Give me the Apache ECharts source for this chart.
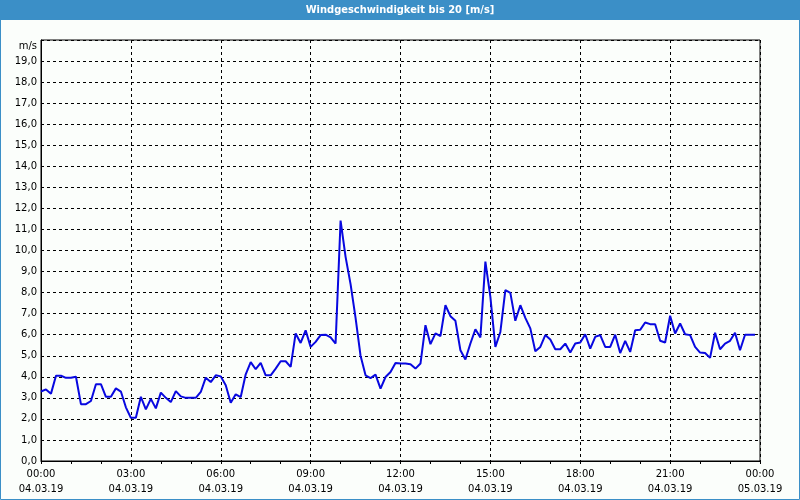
<!DOCTYPE html>
<html>
<head>
<meta charset="utf-8">
<script src="https://cdn.jsdelivr.net/npm/echarts@6/dist/echarts.min.js"></script>
<style>
html,body{margin:0;padding:0;background:#fbfefb;}
#chart{width:800px;height:500px;}
</style>
</head>
<body>
<div id="chart"></div>
<script>
// Chart text
const chartTitle = 'Windgeschwindigkeit bis 20 [m/s]';
const unitLabel = 'm/s';
// X tick labels (every 3 hours)
const tickLabels = [
  '00:00\n04.03.19','03:00\n04.03.19','06:00\n04.03.19','09:00\n04.03.19',
  '12:00\n04.03.19','15:00\n04.03.19','18:00\n04.03.19','21:00\n04.03.19',
  '00:00\n05.03.19'
];
// Minutes since 04.03.19 00:00 (10-minute samples)
const minutes = [];
for (let m = 0; m < 1440; m += 10) minutes.push(m);
// Wind speed in m/s
const speeds = [
  3.3,3.4,3.2,4.05,4.05,3.95,3.95,4.0,2.7,2.7,2.85,3.65,
  3.65,3.05,3.05,3.45,3.3,2.55,2.05,2.05,3.05,2.45,2.95,2.5,
  3.25,3.0,2.8,3.32,3.07,3.0,3.0,3.0,3.28,3.96,3.75,4.07,
  4.02,3.6,2.77,3.17,3.04,4.12,4.7,4.36,4.66,4.07,4.07,4.39,
  4.74,4.74,4.47,6.06,5.61,6.21,5.42,5.66,5.98,6.0,5.87,5.58,
  11.42,9.7,8.4,6.8,5.0,4.07,3.94,4.1,3.44,3.99,4.23,4.66,
  4.63,4.63,4.6,4.39,4.63,6.45,5.55,6.06,5.93,7.4,6.88,6.66,
  5.26,4.82,5.58,6.26,5.87,9.47,7.8,5.42,6.13,8.12,7.99,6.66,
  7.4,6.8,6.3,5.21,5.42,5.98,5.77,5.31,5.31,5.58,5.15,5.58,
  5.63,6.02,5.34,5.9,5.98,5.42,5.42,6.0,5.13,5.71,5.18,6.21,
  6.23,6.58,6.5,6.5,5.71,5.63,6.9,6.06,6.53,6.02,5.98,5.42,
  5.15,5.13,4.9,6.09,5.31,5.58,5.71,6.09,5.26,6.0,6.0,6.0
];

const seriesData = minutes.map((m, i) => [m, speeds[i]]);
const FONT = "'DejaVu Sans', Tahoma, sans-serif";
const TITLE_FONT = "'DejaVu Sans Condensed', 'DejaVu Sans', Tahoma, sans-serif";
const BLUE = '#3b8fc7';

const chart = echarts.init(document.getElementById('chart'), null, {renderer: 'canvas'});
chart.setOption({
  animation: false,
  backgroundColor: '#fbfefb',
  title: {
    text: chartTitle,
    left: 'center',
    top: 3,
    padding: 0,
    textStyle: {color: '#ffffff', fontFamily: TITLE_FONT, fontSize: 11, fontWeight: 'bold', lineHeight: 14}
  },
  graphic: [
    {type: 'rect', z: -1, silent: true, shape: {x: 0, y: 0, width: 800, height: 20}, style: {fill: BLUE}},
    {type: 'rect', z: 100, silent: true, shape: {x: 0.5, y: 0.5, width: 799, height: 499}, style: {fill: null, stroke: BLUE, lineWidth: 1}},
    {type: 'text', silent: true, x: 37, y: 46, style: {text: unitLabel, align: 'right', verticalAlign: 'middle', fill: '#000', font: '10px ' + FONT}}
  ],
  grid: {left: 41, right: 40, top: 40, bottom: 39, show: true, borderColor: '#000', borderWidth: 1, backgroundColor: 'transparent'},
  xAxis: {
    type: 'value',
    min: 0, max: 1440, interval: 180,
    axisLine: {lineStyle: {color: '#000', width: 1}},
    axisTick: {show: true, length: 3, lineStyle: {color: '#000'}},
    minorTick: {show: true, splitNumber: 3, length: 3, lineStyle: {color: '#000'}},
    splitLine: {show: true, lineStyle: {color: '#000', type: [3, 3], width: 1}},
    axisLabel: {
      color: '#000', fontFamily: FONT, fontSize: 10, lineHeight: 15, margin: 6,
      formatter: v => tickLabels[Math.round(v / 180)] || ''
    }
  },
  yAxis: {
    type: 'value',
    min: 0, max: 20, interval: 1,
    axisLine: {show: true, lineStyle: {color: '#000', width: 1}},
    axisTick: {show: false},
    splitLine: {show: true, lineStyle: {color: '#000', type: [3, 3], width: 1}},
    axisLabel: {
      color: '#000', fontFamily: FONT, fontSize: 10, margin: 4,
      formatter: v => v >= 20 ? '' : v.toFixed(1).replace('.', ',')
    }
  },
  series: [{
    type: 'line',
    data: seriesData,
    showSymbol: false,
    symbol: 'none',
    lineStyle: {color: '#0808e0', width: 2},
    itemStyle: {color: '#0808e0'},
    z: 5
  }]
});
</script>
</body>
</html>
